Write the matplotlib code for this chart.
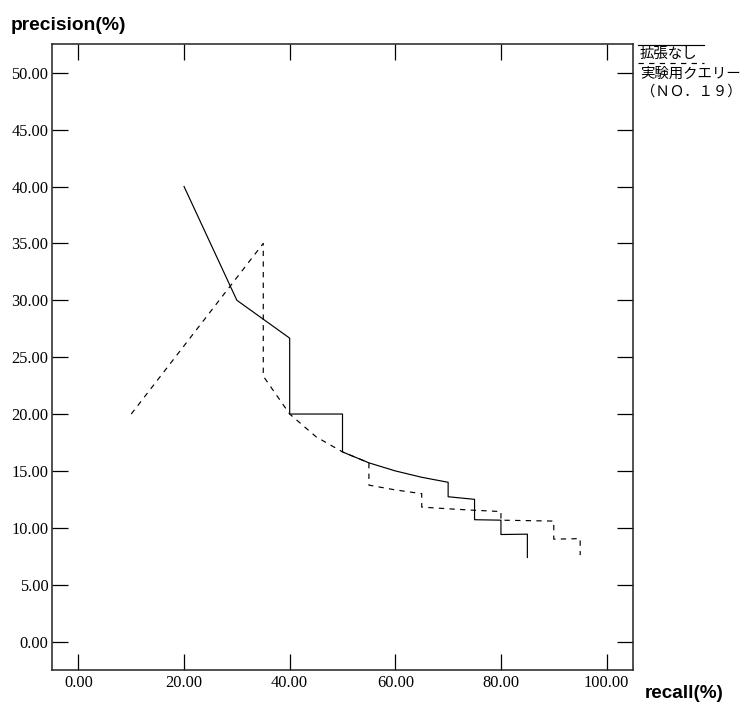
import matplotlib
matplotlib.use("Agg")
import matplotlib.pyplot as plt
from matplotlib.lines import Line2D

# recall / precision values
base_recall = [20, 30, 40, 40, 50, 50, 55, 60, 65, 70, 70, 75, 75, 80, 80, 85, 85]
base_precision = [40.0, 30.0, 26.67, 20.0, 20.0, 16.67, 15.71, 15.0, 14.44, 14.0,
                  12.73, 12.5, 10.71, 10.67, 9.41, 9.44, 7.39]

exp_recall = [10, 35, 35, 40, 45, 50, 55, 55, 60, 65, 65, 70, 75, 80, 80, 85, 90, 90, 95, 95]
exp_precision = [20.0, 35.0, 23.33, 20.0, 18.0, 16.67, 15.71, 13.75, 13.33, 13.0,
                 11.82, 11.67, 11.54, 11.43, 10.67, 10.63, 10.59, 9.0, 9.05, 7.6]

x_ticks = [0, 20, 40, 60, 80, 100]
y_ticks = [0, 5, 10, 15, 20, 25, 30, 35, 40, 45, 50]

legend_labels = ["拡張なし", "実験用クエリー", "（ＮＯ．１９）"]

W, H = 744, 702
fig = plt.figure(figsize=(W / 100, H / 100), dpi=100)
ax = fig.add_axes([52 / W, 1 - 670 / H, (633 - 52) / W, (670 - 44.3) / H])

ax.plot(base_recall, base_precision, color="black", lw=0.85)
ax.plot(exp_recall, exp_precision, color="black", lw=0.85, linestyle=(0, (4.5, 4.5)))

ax.set_xlim(-5, 105)
ax.set_ylim(-2.5, 52.5)
ax.set_xticks(x_ticks)
ax.set_yticks(y_ticks)
ax.set_xticklabels([f"{v:.2f}" for v in x_ticks])
ax.set_yticklabels([f"{v:.2f}" for v in y_ticks])
ax.tick_params(direction="in", length=11.5, width=0.9, top=True, right=True,
               labelsize=11.8, colors="black")
ax.tick_params(axis="y", pad=2.5)
ax.tick_params(axis="x", pad=3.5)
for lab in ax.get_xticklabels() + ax.get_yticklabels():
    lab.set_family("Liberation Serif")
for sp in ax.spines.values():
    sp.set_linewidth(1.1)
    sp.set_color("#222222")

fig.text(11 / W, 1 - 25 / H, "precision(%)", fontsize=13.9, fontweight="bold",
         family="Liberation Sans", ha="left", va="center")
fig.text(684 / W, 1 - 693 / H, "recall(%)", fontsize=13.6, fontweight="bold",
         family="Liberation Sans", ha="center", va="center")

# legend on the right side
cjk = ["Noto Sans CJK JP", "DejaVu Sans"]
fig.add_artist(Line2D([638 / W, 704 / W], [1 - 44.7 / H] * 2, color="black", lw=0.85,
                      transform=fig.transFigure))
fig.add_artist(Line2D([638 / W, 704 / W], [1 - 63.3 / H] * 2, color="black", lw=0.85,
                      linestyle=(0, (4.5, 4.5)), transform=fig.transFigure))
fig.text(640 / W, 1 - 54 / H, legend_labels[0], fontsize=10.4, family=cjk,
         ha="left", va="center")
fig.text(640 / W, 1 - 74 / H, legend_labels[1], fontsize=10.4, family=cjk,
         ha="left", va="center")
fig.text(641 / W, 1 - 91.5 / H, legend_labels[2], fontsize=10.4, family=cjk,
         ha="left", va="center")

fig.savefig("out.png", dpi=100)
